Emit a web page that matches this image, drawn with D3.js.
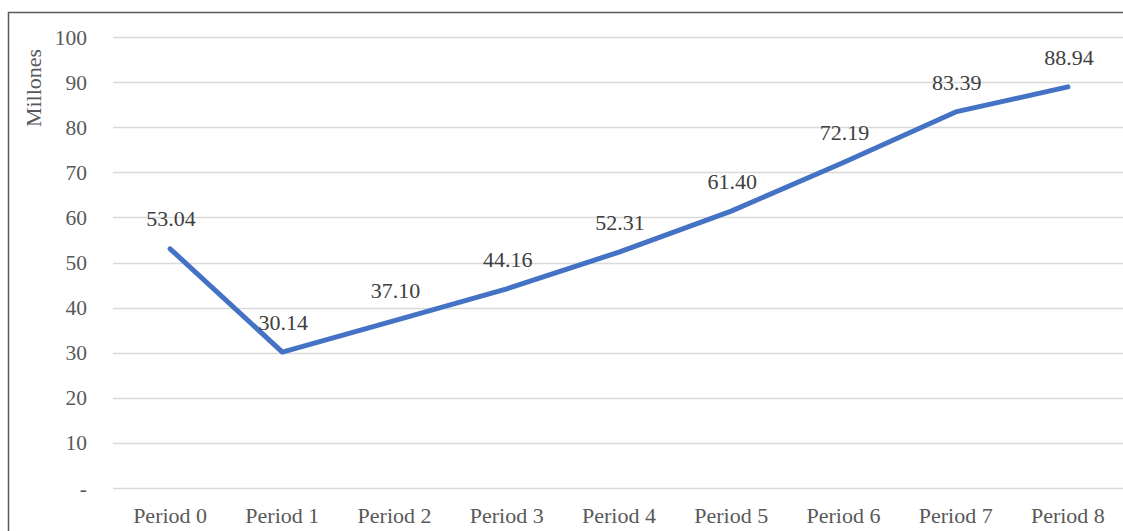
<!DOCTYPE html>
<html>
<head>
<meta charset="utf-8">
<script src="https://cdn.jsdelivr.net/npm/d3@7"></script>
<style>
  html, body { margin: 0; padding: 0; background: #fff; }
  svg { display: block; }
</style>
</head>
<body>
<svg id="chart" width="1123" height="531"></svg>
<script>
// Series data
const periods = ["Period 0", "Period 1", "Period 2", "Period 3", "Period 4", "Period 5", "Period 6", "Period 7", "Period 8"];
const values = [53.04, 30.14, 37.10, 44.16, 52.31, 61.40, 72.19, 83.39, 88.94];
const yTicks = [0, 10, 20, 30, 40, 50, 60, 70, 80, 90, 100];
const yTitle = "Millones";

const W = 1123, H = 531;
const font = "'Liberation Serif', 'Times New Roman', serif";
const fontSize = 22;
const textColor = "#595959";

const svg = d3.select("#chart");

// outer frame (right and bottom edges fall outside the view)
svg.append("rect")
  .attr("x", 8.5).attr("y", 12.5)
  .attr("width", W + 20).attr("height", H + 20)
  .attr("fill", "none")
  .attr("stroke", "#5a5a5a")
  .attr("stroke-width", 1.5);

const plot = { left: 114, right: 1124, top: 37, bottom: 488 };

const x = d3.scaleBand()
  .domain(periods)
  .range([plot.left, plot.right]);

const y = d3.scaleLinear()
  .domain([0, 100])
  .range([plot.bottom, plot.top]);

// horizontal gridlines
svg.append("g")
  .selectAll("line")
  .data(yTicks)
  .join("line")
  .attr("x1", plot.left - 1)
  .attr("x2", W)
  .attr("y1", d => Math.round(y(d)) + 0.5)
  .attr("y2", d => Math.round(y(d)) + 0.5)
  .attr("stroke", "#d9d9d9")
  .attr("stroke-width", 1.5);

// y axis tick labels
svg.append("g")
  .selectAll("text")
  .data(yTicks)
  .join("text")
  .attr("x", 87)
  .attr("y", d => y(d))
  .attr("dy", "0.35em")
  .attr("text-anchor", "end")
  .attr("font-family", font)
  .attr("font-size", 21.5)
  .attr("fill", textColor)
  .text(d => d === 0 ? "-" : d3.format("d")(d));

// y axis title
svg.append("text")
  .attr("transform", `translate(33, 88) rotate(-90)`)
  .attr("text-anchor", "middle")
  .attr("dy", "0.35em")
  .attr("font-family", font)
  .attr("font-size", fontSize)
  .attr("fill", textColor)
  .text(yTitle);

// x axis category labels
svg.append("g")
  .selectAll("text")
  .data(periods)
  .join("text")
  .attr("x", d => x(d) + x.bandwidth() / 2)
  .attr("y", 523)
  .attr("text-anchor", "middle")
  .attr("font-family", font)
  .attr("font-size", fontSize)
  .attr("fill", textColor)
  .text(d => d);

const pts = periods.map((p, i) => ({ p, v: values[i] }));

// series line
const line = d3.line()
  .x(d => x(d.p) + x.bandwidth() / 2)
  .y(d => y(d.v));

svg.append("path")
  .datum(pts)
  .attr("d", line)
  .attr("fill", "none")
  .attr("stroke", "#4472c4")
  .attr("stroke-width", 5)
  .attr("stroke-linejoin", "round")
  .attr("stroke-linecap", "round");

// data labels
svg.append("g")
  .selectAll("text")
  .data(pts)
  .join("text")
  .attr("x", d => x(d.p) + x.bandwidth() / 2 + 1)
  .attr("y", d => y(d.v) - 30)
  .attr("dy", "0.35em")
  .attr("text-anchor", "middle")
  .attr("font-family", font)
  .attr("font-size", fontSize)
  .attr("fill", "#404040")
  .text(d => d3.format(".2f")(d.v));
</script>
</body>
</html>
